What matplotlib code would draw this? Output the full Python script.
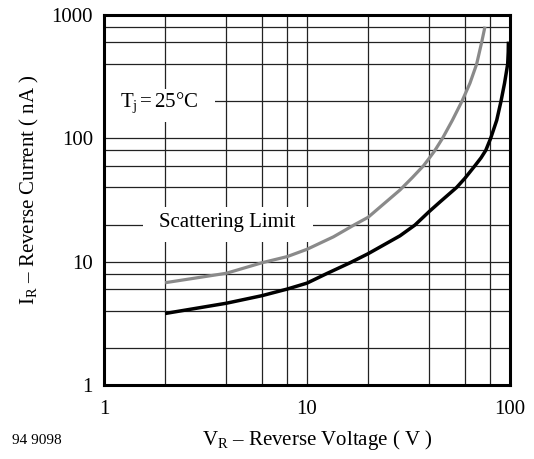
import matplotlib
matplotlib.use("Agg")
import matplotlib.pyplot as plt
from matplotlib.patches import Rectangle

plt.rcParams['font.family'] = ['Liberation Serif', 'DejaVu Serif']
plt.rcParams['mathtext.fontset'] = 'custom'
plt.rcParams['mathtext.rm'] = 'Liberation Serif'
plt.rcParams['mathtext.it'] = 'Liberation Serif:italic'

# ---- data ----
scatter_v = [2, 4, 6, 8, 10, 13.5, 17.2, 20, 28.7, 33, 37.5, 40, 42.5, 46.5, 52, 58, 63.5, 68.5, 72.5, 75.3]
scatter_i = [6.75, 8.05, 9.8, 11.0, 12.6, 15.9, 20, 22.9, 38.1, 48, 60, 69, 79, 100, 140, 200, 280, 400, 600, 805]

typ_v = [2, 4, 6, 8, 10, 12.5, 16.3, 20, 28.7, 34, 40, 45.2, 54.6, 60, 67.2, 72, 76, 80.3, 86, 90.3, 94, 97.4, 98, 98.2]
typ_i = [3.8, 4.6, 5.3, 6.0, 6.7, 8, 9.8, 11.6, 16.2, 19.8, 25.5, 30.5, 40, 47.5, 60, 69.5, 80, 100, 140, 200, 280, 400, 500, 608]

x_ticks = [1, 10, 100]
x_ticklabels = ['1', '10', '100']
y_ticks = [1, 10, 100, 1000]
y_ticklabels = ['1', '10', '100', '1000']
x_grid = [2, 4, 6, 8, 10, 20, 40, 60, 80]
y_grid = [2, 4, 6, 8, 10, 20, 40, 60, 80, 100, 200, 400, 600, 800]

fig = plt.figure(figsize=(5.34, 4.59), dpi=100)
ax = fig.add_axes([104/534, 1-385/459, 406/534, 370/459])
ax.set_xscale('log')
ax.set_yscale('log')
ax.set_xlim(1, 100)
ax.set_ylim(1, 1000)

for v in x_grid:
    ax.axvline(v, color='#222222', lw=0.9, zorder=1)
for v in y_grid:
    ax.axhline(v, color='#222222', lw=0.9, zorder=1)

# white boxes behind annotations
ax.add_patch(Rectangle((0.003, 0.711), 0.270, 0.089, transform=ax.transAxes,
                       facecolor='white', edgecolor='none', zorder=2))
ax.add_patch(Rectangle((0.096, 0.386), 0.419, 0.095, transform=ax.transAxes,
                       facecolor='white', edgecolor='none', zorder=2))

ax.plot(scatter_v, scatter_i, color='#8a8a8a', lw=2.3, zorder=3, solid_capstyle='butt',
        solid_joinstyle='round')
ax.plot(typ_v, typ_i, color='black', lw=2.5, zorder=4, solid_capstyle='butt',
        solid_joinstyle='round')

ax.text(0.135, 0.762, r'T$_\mathrm{j}$$\,$=$\,$25°C', transform=ax.transAxes,
        ha='center', va='center', fontsize=15, zorder=5)
ax.text(0.303, 0.438, 'Scattering Limit', transform=ax.transAxes,
        ha='center', va='center', fontsize=15, zorder=5)

ax.set_xticks(x_ticks)
ax.set_xticklabels(x_ticklabels)
ax.set_yticks(y_ticks)
ax.set_yticklabels(y_ticklabels)
ax.minorticks_off()
ax.tick_params(axis='both', length=0, labelsize=15)
ax.tick_params(axis='x', pad=11)
ax.tick_params(axis='y', pad=8)

for s in ax.spines.values():
    s.set_linewidth(2.2)
    s.set_color('black')
    s.set_zorder(6)

fig.text(317/534, 1-440/459, r'V$_\mathrm{R}$ – Reverse Voltage ( V )',
         ha='center', va='center', fontsize=15)
fig.text(29/534, 1-190/459, r'I$_\mathrm{R}$ – Reverse Current ( nA )',
         ha='center', va='center', fontsize=15, rotation=90)
fig.text(12/534, 1-440/459, '94 9098', ha='left', va='center', fontsize=11)

fig.savefig('out.png', dpi=100)
